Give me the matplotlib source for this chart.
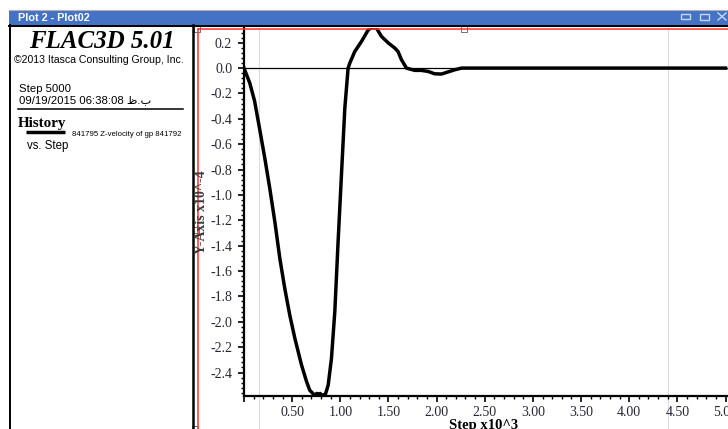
import numpy as np
import matplotlib.pyplot as plt
from matplotlib.patches import Rectangle
from matplotlib.ticker import MultipleLocator, FuncFormatter

plt.rcParams['axes.unicode_minus'] = False

# history 841795: z-velocity of gp 841792 (step x10^3, velocity x10^-4)
step = [0.0, 0.06, 0.11, 0.16, 0.216, 0.268, 0.32, 0.372, 0.424, 0.476,
        0.528, 0.597, 0.649, 0.683, 0.735, 0.755, 0.77, 0.79, 0.81, 0.846,
        0.874, 0.908, 0.943, 0.977, 1.012, 1.047, 1.081, 1.099, 1.15, 1.22,
        1.289, 1.32, 1.375, 1.427, 1.50, 1.566, 1.60, 1.635, 1.687, 1.773,
        1.84, 1.91, 1.98, 2.05, 2.12, 2.19, 2.26, 5.0]
zvel = [0.0, -0.118, -0.26, -0.47, -0.71, -0.95, -1.21, -1.50, -1.74, -1.95,
        -2.13, -2.34, -2.47, -2.54, -2.58, -2.565, -2.575, -2.565, -2.58, -2.57,
        -2.50, -2.29, -1.92, -1.37, -0.84, -0.316, 0.0, 0.04, 0.13, 0.21,
        0.30, 0.316, 0.316, 0.25, 0.197, 0.158, 0.13, 0.066, 0.0, -0.018,
        -0.018, -0.026, -0.045, -0.047, -0.03, -0.013, 0.0, 0.0]

serif = 'Liberation Serif'
sans = 'Liberation Sans'
W, H = 728, 429

fig = plt.figure(figsize=(W / 100, H / 100), dpi=100)

# fondo (pixeles)
bg = fig.add_axes([0, 0, 1, 1], zorder=0)
bg.set_xlim(0, W)
bg.set_ylim(H, 0)
bg.axis('off')
for gx in [259, 668]:
    bg.plot([gx, gx], [28, H], color='#dcdcdc', lw=0.8)

# grafico principal
ax = fig.add_axes([244 / W, 33 / H, 1 - 244 / W, 368 / H], zorder=2)
ax.set_facecolor('none')
ax.plot(step, zvel, color='black', lw=2.5, solid_joinstyle='round', zorder=3)
ax.axhline(0, color='black', lw=0.9, zorder=2)
ax.set_xlim(0, (W - 244) / 96.3)
ax.set_ylim(-2.585, 0.316)
ax.xaxis.set_major_locator(MultipleLocator(0.5))
ax.xaxis.set_minor_locator(MultipleLocator(0.1))
ax.yaxis.set_major_locator(MultipleLocator(0.2))
ax.yaxis.set_minor_locator(MultipleLocator(0.04))
ax.xaxis.set_major_formatter(FuncFormatter(lambda v, p: '' if v < 0.01 else '%.2f' % v))
ax.yaxis.set_major_formatter(FuncFormatter(lambda v, p: '%.1f' % (0.0 if abs(v) < 1e-6 else v)))
ax.spines['top'].set_visible(False)
ax.spines['right'].set_visible(False)
ax.spines['left'].set_linewidth(1.6)
ax.spines['bottom'].set_linewidth(1.6)
ax.tick_params(which='major', direction='out', length=4, width=1.2,
               labelsize=10, labelcolor='#262636', pad=3.5)
ax.tick_params(which='minor', direction='out', length=2.5, width=1.0)
ax.tick_params(axis='y', which='major', pad=4.5)
for lab in ax.get_xticklabels() + ax.get_yticklabels():
    lab.set_family(serif)

# ventana y panel izquierdo
fg = fig.add_axes([0, 0, 1, 1], zorder=5)
fg.set_facecolor('none')
fg.set_xlim(0, W)
fg.set_ylim(H, 0)
fg.axis('off')

fg.plot([9, W], [9.5, 9.5], color='#b0b0b0', lw=0.8)
fg.add_patch(Rectangle((9, 10), W - 9, 15, facecolor='#4472c4', edgecolor='none'))
fg.text(18, 21, 'Plot 2 - Plot02', color='white', fontsize=7.8,
        fontweight='bold', family=sans, va='baseline')
fg.add_patch(Rectangle((681, 14), 9, 5, facecolor='none', edgecolor='#c8d8f2', lw=1.0))
fg.add_patch(Rectangle((700, 13.5), 9, 6, facecolor='none', edgecolor='#c8d8f2', lw=1.0))
fg.plot([718, 726], [13, 20], color='#c8d8f2', lw=1.0)
fg.plot([718, 726], [20, 13], color='#c8d8f2', lw=1.0)

fg.plot([9, W], [25.5, 25.5], color='black', lw=1.4)
fg.plot([10, 10], [25, H], color='black', lw=1.4)
fg.plot([192.5, 192.5], [25, H], color='black', lw=1.8)
fg.plot([197.5, W], [28.5, 28.5], color='#ff3030', lw=1.1)
fg.plot([197.5, 197.5], [28.5, H], color='#ff3030', lw=1.1)
for sx, sy in [(197, 29), (464, 29), (196, 230), (195, 429)]:
    fg.add_patch(Rectangle((sx - 3, sy - 3), 6, 6, facecolor='white',
                           edgecolor='#707070', lw=0.7))

fg.text(101.5, 48, 'FLAC3D 5.01', fontsize=18, fontweight='bold',
        fontstyle='italic', family=serif, ha='center', va='baseline')
fg.text(14, 63, '©2013 Itasca Consulting Group, Inc.', fontsize=7.6,
        family=sans, va='baseline')
fg.text(19, 92, 'Step 5000', fontsize=8.2, family=sans, va='baseline')
fg.text(19, 103.5, '09/19/2015 06:38:08 ظ.ب', fontsize=8.2,
        family=[sans, 'DejaVu Sans'], va='baseline')
fg.plot([18, 183], [108.5, 108.5], color='black', lw=1.1)
fg.text(18, 127, 'History', fontsize=10.8, fontweight='bold', family=serif,
        va='baseline')
fg.plot([26, 65], [132, 132], color='black', lw=2.5, solid_capstyle='butt')
fg.text(72, 136.5, '841795 Z-velocity of gp 841792', fontsize=5.6,
        family=sans, va='baseline')
fg.text(27, 149, 'vs. Step', fontsize=8.3, family=sans, va='baseline')

fg.text(201.5, 212, 'Y-Axis x10^-4', rotation=90, fontsize=10, fontweight='bold',
        family=serif, color='#3a3a3a', ha='center', va='center')
fg.text(484, 425, 'Step x10^3', fontsize=10.5, fontweight='bold', family=serif,
        ha='center', va='center')

plt.savefig('out.png', dpi=100)
